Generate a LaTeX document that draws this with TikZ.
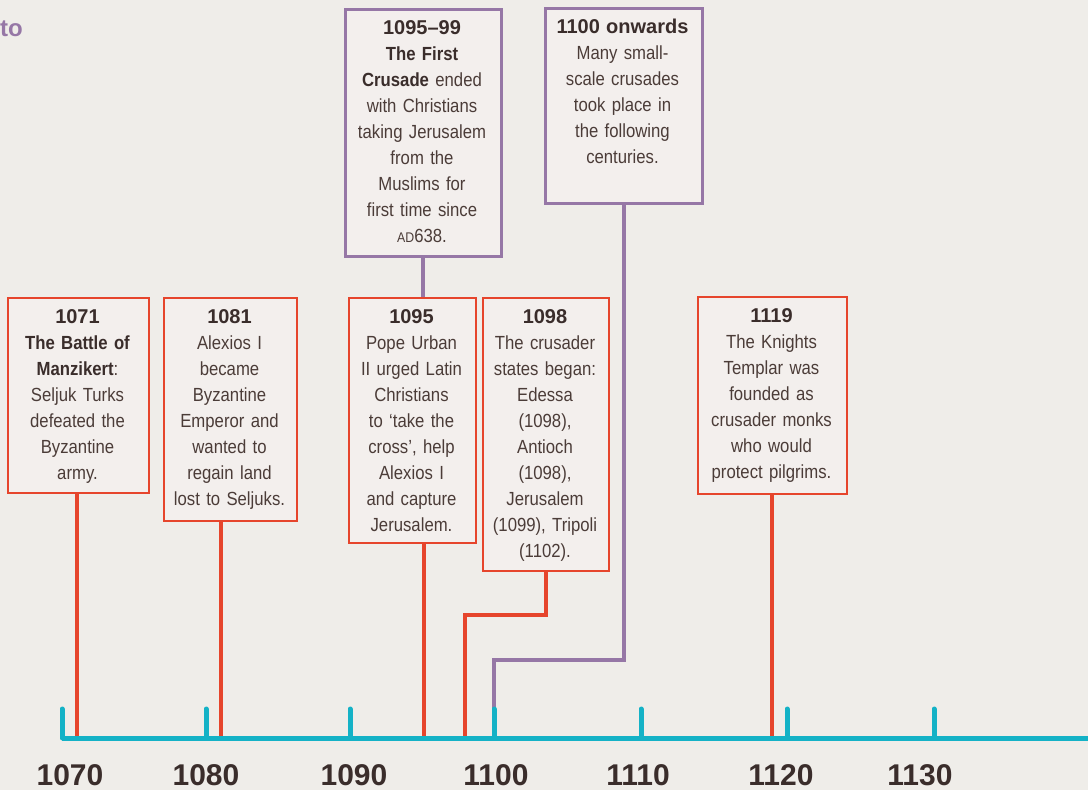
\documentclass[tikz,border=0pt]{standalone}
\usepackage{fontspec}
\setmainfont[FakeStretch=0.88]{Liberation Sans}
\newfontfamily\yearfont{Liberation Sans}
\definecolor{bg}{HTML}{EFEDE9}
\definecolor{boxfill}{HTML}{F3EFED}
\definecolor{redline}{HTML}{E6452C}
\definecolor{purp}{HTML}{9677A6}
\definecolor{axiscol}{HTML}{14B2C6}
\definecolor{txt}{HTML}{4B3C38}
\definecolor{dk}{HTML}{3A2D2B}
\newcommand\bt[1]{{\color{dk}\bfseries #1}}
\newcommand\yh[1]{{\color{dk}\yearfont\bfseries\fontsize{20}{26}\selectfont #1}}
\begin{document}
\begin{tikzpicture}[x=1pt,y=-1pt,
  redbox/.style={draw=redline, line width=2pt, fill=boxfill, inner sep=0pt, anchor=north west},
  purpbox/.style={draw=purp, line width=2.5pt, fill=boxfill, inner sep=0pt, anchor=north west},
  boxtext/.style={anchor=north, inner sep=0pt, text width=180pt, align=center, text=txt,
    font=\fontsize{19}{26}\selectfont},
  redcon/.style={draw=redline, line width=4pt},
  purpcon/.style={draw=purp, line width=4pt},
  axisline/.style={draw=axiscol, line width=5pt},
  ticks/.style={draw=axiscol, line width=5pt, line cap=round},
  yearlab/.style={inner sep=0pt, text=dk, font=\yearfont\fontsize{30}{32}\selectfont\bfseries}
]
\useasboundingbox[fill=bg] (0,0) rectangle (1088,790);

% heading fragment
\node[anchor=base west, inner sep=0pt, text=purp, font=\yearfont\fontsize{24}{26}\selectfont\bfseries] (head) at (0,36) {to};

% axis coordinates
\coordinate (a1071) at (77,736);
\coordinate (a1081) at (221,736);
\coordinate (a1095) at (424,736);
\coordinate (a1098) at (465,736);
\coordinate (a1100) at (494,736);
\coordinate (a1119) at (772,736);
\coordinate (k1098) at (465,615);
\coordinate (k1100) at (494,660);
\coordinate (axstart) at (62,738);
\coordinate (axend) at (1095,738);

% boxes
\node[purpbox, minimum width=156pt, minimum height=247pt] (p1095) at (344,8) {};
\node[purpbox, minimum width=157pt, minimum height=195pt] (p1100) at (544,7) {};
\node[redbox, minimum width=141pt, minimum height=195pt] (b1071) at (7,297) {};
\node[redbox, minimum width=133pt, minimum height=223pt] (b1081) at (163,297) {};
\node[redbox, minimum width=127pt, minimum height=245pt] (b1095) at (348,297) {};
\node[redbox, minimum width=126pt, minimum height=273pt] (b1098) at (482,297) {};
\node[redbox, minimum width=149pt, minimum height=197pt] (b1119) at (697,296) {};

% texts
\node[boxtext] (tp1095) at (422,16) {\strut\yh{1095–99}\\ \bt{The First}\\ \bt{Crusade} ended\\ with Christians\\ taking Jerusalem\\ from the\\ Muslims for\\ first time since\\ {\fontsize{14}{26}\selectfont AD}638.};
\node[boxtext] (tp1100) at (622.5,15) {\strut\yh{1100 onwards}\\ Many small-\\ scale crusades\\ took place in\\ the following\\ centuries.};
\node[boxtext] (t1071) at (77.5,305) {\strut\yh{1071}\\ \bt{The Battle of}\\ \bt{Manzikert}:\\ Seljuk Turks\\ defeated the\\ Byzantine\\ army.};
\node[boxtext] (t1081) at (229.5,305) {\strut\yh{1081}\\ Alexios I\\ became\\ Byzantine\\ Emperor and\\ wanted to\\ regain land\\ lost to Seljuks.};
\node[boxtext] (t1095) at (411.5,305) {\strut\yh{1095}\\ Pope Urban\\ II urged Latin\\ Christians\\ to ‘take the\\ cross’, help\\ Alexios I\\ and capture\\ Jerusalem.};
\node[boxtext] (t1098) at (545,305) {\strut\yh{1098}\\ The crusader\\ states began:\\ Edessa\\ (1098),\\ Antioch\\ (1098),\\ Jerusalem\\ (1099), Tripoli\\ (1102).};
\node[boxtext] (t1119) at (771.5,304) {\strut\yh{1119}\\ The Knights\\ Templar was\\ founded as\\ crusader monks\\ who would\\ protect pilgrims.};

% connectors
\draw[purpcon] (p1095.south) -- (p1095.south |- b1095.north);
\draw[purpcon] (p1100.south) |- (k1100) -- (a1100);
\draw[redcon] (b1071.south -| a1071) -- (a1071);
\draw[redcon] (b1081.south -| a1081) -- (a1081);
\draw[redcon] (b1095.south -| a1095) -- (a1095);
\draw[redcon] (b1098.south) |- (k1098) -- (a1098);
\draw[redcon] (b1119.south -| a1119) -- (a1119);

% axis
\draw[axisline] (axstart) -- (axend);
\foreach \x/\yr/\lx in {62/1070/70, 206/1080/206, 350/1090/354, 494/1100/496, 641/1110/638, 787/1120/781, 934/1130/920} {
  \coordinate (tk\yr) at (\x,709);
  \draw[ticks] (tk\yr) -- (tk\yr |- axstart);
  \node[yearlab] (y\yr) at (\lx,775) {\yr};
}
\end{tikzpicture}
\end{document}
